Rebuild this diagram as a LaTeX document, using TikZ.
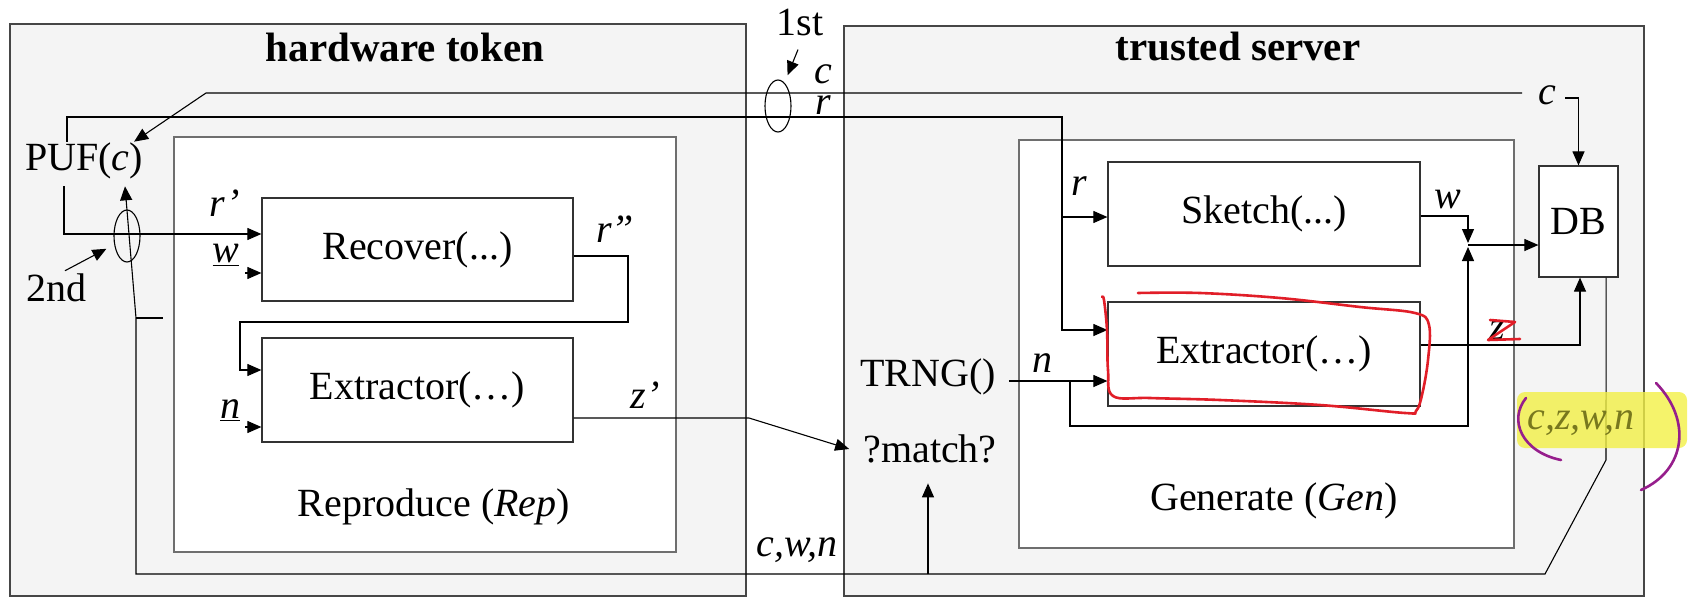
\documentclass[tikz,border=0pt]{standalone}
\usepackage{fontspec}
\setmainfont{Liberation Serif}
\usepackage{xcolor}
\usepackage{tikz}
\usetikzlibrary{arrows.meta, shapes.geometric}
\definecolor{boxgray}{RGB}{244,244,244}
\definecolor{framegray}{RGB}{70,70,70}
\definecolor{unitgray}{RGB}{110,110,110}
\definecolor{penred}{RGB}{225,30,40}
\definecolor{penpurple}{RGB}{150,30,140}
\definecolor{hlyellow}{RGB}{242,240,70}
\definecolor{olivetext}{RGB}{120,120,30}

\begin{document}
\begin{tikzpicture}[x=1pt, y=-1pt,
    every node/.style={font=\fontsize{40}{48}\selectfont, inner sep=1pt},
    frame/.style={draw=framegray, line width=1.3pt, fill=boxgray},
    unit/.style={draw=unitgray, line width=1.2pt, fill=white},
    blk/.style={draw=black!80, line width=1.2pt, fill=white, inner sep=0pt},
    arr/.style={-{Triangle[length=14pt,width=12pt]}, line width=1.1pt},
    var/.style={font=\fontsize{40}{48}\selectfont\itshape},
    ring/.style={draw, ellipse, line width=1.1pt, minimum width=26pt, minimum height=52pt, inner sep=0pt},
    pen/.style={line width=2.6pt, line cap=round, line join=round}]

    \useasboundingbox (0,0) rectangle (1690,597);

    % Outer frames
    \draw[frame] (10,24) rectangle (746,596);
    \draw[frame] (844,26) rectangle (1644,596);
    \node[font=\fontsize{41}{48}\selectfont\bfseries] (token) at (405,47) {hardware token};
    \node[font=\fontsize{41}{48}\selectfont\bfseries] (server) at (1238,47) {trusted server};

    % Rep and Gen units
    \draw[unit] (174,137) rectangle (676,552);
    \draw[unit] (1019,140) rectangle (1514,548);
    \node (rep) at (434,507) {Reproduce (\textit{Rep})};
    \node (gen) at (1274,501) {Generate (\textit{Gen})};

    % Blocks
    \node[blk, minimum width=311pt, minimum height=103pt] (recover) at (417.5,249.5) {Recover(...)};
    \node[blk, minimum width=311pt, minimum height=104pt] (extl) at (417.5,390) {Extractor(…)};
    \node[blk, minimum width=312pt, minimum height=104pt] (sketch) at (1264,214) {Sketch(...)};
    \node[blk, minimum width=312pt, minimum height=104pt] (extr) at (1264,354) {Extractor(…)};
    \node[blk, minimum width=79pt, minimum height=111pt] (db) at (1578.5,221.5) {DB};
    \node (puf) at (84,161) {PUF(\textit{c})};
    \node (trng) at (928,377) {TRNG()};
    \node (match) at (930,449) {?match?};

    % Rings
    \node[ring] (first) at (778,106) {};
    \node[ring] (second) at (127,236) {};
    \node (lfirst) at (800,22) {1st};
    \node (lsecond) at (56,288) {2nd};
    \draw[arr] ([xshift=-2pt,yshift=-13pt]lfirst.south) -- ([yshift=12pt]first.north east);
    \draw[arr] ([xshift=9pt,yshift=2pt]lsecond.north) -- ([xshift=-11pt,yshift=6pt]second.south west);

    % c and r between token and server
    \node[var] (cdb) at (1547,95) {c};
    \coordinate (cin) at (1522,93);
    \draw[arr] (cin) -- (206,93) -- ([xshift=-10pt]puf.north east);
    \draw[arr] ([xshift=8pt,yshift=-3pt]cdb.east) -| (db.north);
    \draw[arr] ([xshift=-17pt]puf.north) -- (67,117) -- (1062,117) -- (1062,330) -- ([yshift=24pt]extr.west);
    \draw[arr] (1062,217) -- ([yshift=-3pt]sketch.west);

    % Token side
    \draw[arr] ([xshift=-20pt,yshift=-6pt]puf.south) |- ([yshift=15.5pt]recover.west);
    \draw[arr] ([xshift=-16pt,yshift=-23.5pt]recover.west) -- ([yshift=-23.5pt]recover.west);
    \draw[arr] ([xshift=-16pt,yshift=-37pt]extl.west) -- ([yshift=-37pt]extl.west);
    \draw[arr] ([yshift=-6.5pt]recover.east) -| (628,322) -- (240,322) |- ([yshift=20pt]extl.west);
    \draw[arr] ([yshift=-28pt]extl.east) -- (749,418) -- ([xshift=-13pt]match.west);

    % Return path from DB
    \draw[arr] ([xshift=-12.5pt]db.south east) -- (1606,460) -- (1545,574) -- (136,574) -- (136,318) -- ([xshift=41pt,yshift=-6pt]puf.south);
    \draw[line width=1.1pt] (136,318) -- (163,318);
    \draw[arr] (928,574) -- ([xshift=-2pt,yshift=-19pt]match.south);

    % Server side
    \draw[arr] ([xshift=12pt,yshift=-4pt]trng.east) -- ([yshift=-27pt]extr.west);
    \draw[arr] (1070,381) |- (1468,426) -- (1468,247);
    \draw[arr] ([yshift=-2pt]sketch.east) -| (1468,243);
    \draw[arr] (1468,245) -- ([yshift=-23.5pt]db.west);
    \draw[arr] ([yshift=9pt]extr.east) -| ([xshift=1.5pt]db.south);

    % Labels
    \node[var] (ctop) at (823,74) {c};
    \node[var] (rtop) at (823,105) {r};
    \node[var] (rp) at (225,203) {r'};
    \node[var] (wl) at (226,255) {\underline{w}};
    \node[var] (rpp) at (615,229) {r''};
    \node[var] (nl) at (230,410) {\underline{n}};
    \node[var] (zp) at (645,395) {z'};
    \node[var] (cwn) at (797,550) {c,w,n};
    \node[var] (rs) at (1079,186) {r};
    \node[var] (ws) at (1448,200) {w};
    \node[var] (nt) at (1042,363) {n};
    \node[var] (zl) at (1497,330) {z};

    % Hand-drawn marks
    \draw[pen, penred] plot[smooth, tension=0.6] coordinates {(1138,293) (1200,293) (1280,298) (1360,307) (1415,313) (1429,325) (1428,360) (1422,395) (1416,411) (1405,413) (1320,405) (1220,400) (1150,398) (1113,396) (1108,370) (1107,330) (1104,300) (1102,297)};
    \draw[pen, penred] (1490,320) -- (1515,322) -- (1488,340) -- (1520,339);
    \fill[hlyellow, fill opacity=0.8, rounded corners=8pt] (1517,392) rectangle (1687,448);
    \node[var, text=olivetext] (czwn) at (1581,423) {c,z,w,n};
    \draw[pen, penpurple] (1526,398) .. controls (1508,420) and (1522,452) .. (1561,460);
    \draw[pen, penpurple] (1656,383) .. controls (1692,420) and (1686,470) .. (1641,490);
\end{tikzpicture}
\end{document}
